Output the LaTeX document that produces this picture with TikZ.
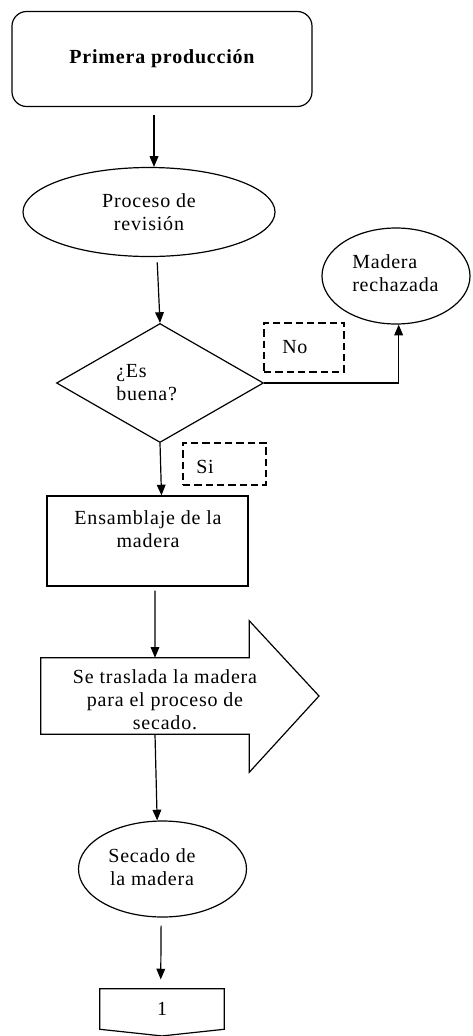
\documentclass[tikz,border=0pt]{standalone}
\usepackage{fontspec}
\setmainfont{Liberation Serif}[LetterSpace=4]
\usetikzlibrary{shapes.geometric,arrows.meta}
\begin{document}
\begin{tikzpicture}[x=0.75pt,y=-0.75pt,
  every node/.style={font=\fontsize{15pt}{17.25pt}\selectfont},
  ln/.style={line width=0.9pt},
  arr/.style={ln,-{Triangle[length=8pt,width=6.5pt]}},
  txt/.style={align=center,inner sep=0pt},
  dbox/.style={draw,line width=0.8pt,dash pattern=on 5.5pt off 3pt}]
\useasboundingbox (0,0) rectangle (472,1036);
% start
\node[draw,ln,rounded corners=11pt,minimum width=225pt,minimum height=71.25pt,
  font=\fontsize{15pt}{17.25pt}\selectfont\bfseries] (start) at (162,59) {Primera producción};
% revision
\node[draw,ln,ellipse,minimum width=189pt,minimum height=66.75pt,txt] (rev) at (149,212) {Proceso de\\revisión};
% decision
\node[draw,ln,diamond,minimum width=155.25pt,minimum height=89.25pt,inner sep=0pt] (dec) at (160,383) {};
\node[txt,align=left,anchor=west] (dectext) at (116,383) {¿Es\\buena?};
% rejected
\node[draw,ln,ellipse,minimum width=111pt,minimum height=72pt,inner sep=0pt] (rej) at (396,276) {};
\node[txt,align=left,anchor=west] (rejtext) at (352,273) {Madera\\rechazada};
% labels
\node[dbox,minimum width=60pt,minimum height=36.75pt] (no) at (304,347.5) {};
\node[txt,anchor=west] (notext) at (282,347) {No};
\node[dbox,minimum width=62.25pt,minimum height=31.5pt] (si) at (224.5,464) {};
\node[txt,anchor=west] (sitext) at (196,467) {Si};
% assembly
\node[draw,ln,minimum width=150.75pt,minimum height=67.5pt] (ens) at (147.5,541) {};
\node[txt] (enstext) at (148,529) {Ensamblaje de la\\madera};
% big arrow
\node[minimum width=156pt,minimum height=57pt,inner sep=0pt] (tras) at (145,696) {};
\draw[ln,line join=miter] (tras.north west) -- (tras.north east) -- ++(0,-37) -- (319,696) -- ([yshift=-28.5pt]tras.south east) -- (tras.south east) -- (tras.south west) -- cycle;
\node[txt] (trastext) at (165,700) {Se traslada la madera\\para el proceso de\\secado.};
% drying
\node[draw,ln,ellipse,minimum width=126pt,minimum height=72pt,inner sep=0pt] (sec) at (162.5,869) {};
\node[txt] (sectext) at (152,867) {Secado de\\la madera};
% connector
\node[minimum width=93pt,minimum height=30pt,inner sep=0pt] (conn) at (162,1009) {1};
\draw[ln] (conn.north west) -- (conn.north east) -- (conn.south east) -- ([yshift=-5pt]conn.south) -- (conn.south west) -- cycle;
% arrows
\draw[arr,shorten <=6pt] ([xshift=-6pt]start.south) -- ([xshift=-6pt]start.south |- rev.north);
\draw[arr,shorten <=4pt] ([xshift=6pt]rev.south) -- (dec.north);
\draw[arr] (dec.east) -| ([xshift=2pt]rej.south);
\draw[arr] (dec.south) -- ([xshift=10.5pt]ens.north);
\draw[arr,shorten <=3pt] ([xshift=5.6pt]ens.south) -- ([xshift=7.5pt]tras.north);
\draw[arr] ([xshift=7.5pt]tras.south) -- ([xshift=-4pt]sec.north);
\draw[arr,shorten <=6pt,shorten >=7pt] ([xshift=-1pt]sec.south) -- ([xshift=-1pt]conn.north);
\end{tikzpicture}
\end{document}
